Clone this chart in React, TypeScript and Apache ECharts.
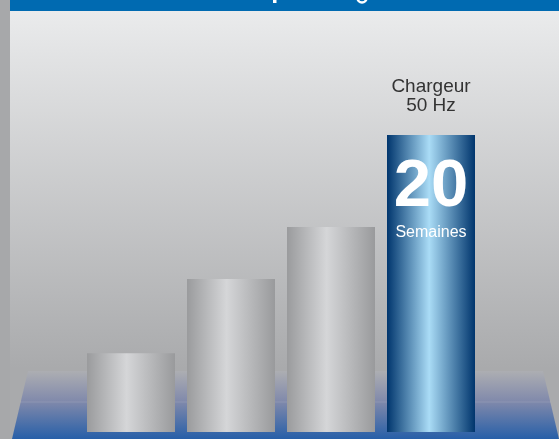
import React, { useEffect, useRef } from 'react';
import * as echarts from 'echarts';

const categories = ['Chargeur A', 'Chargeur B', 'Chargeur C', 'Chargeur 50 Hz'];
const weeks = [5.3, 10.3, 13.8, 20];
const highlightTitle = ['Chargeur', '50 Hz'];
const unitLabel = 'Semaines';

const grayBar = {
  type: 'linear', x: 0, y: 0, x2: 1, y2: 0,
  colorStops: [
    { offset: 0, color: '#9a9b9d' },
    { offset: 0.45, color: '#d5d6d8' },
    { offset: 1, color: '#999a9c' },
  ],
};
const blueBar = {
  type: 'linear', x: 0, y: 0, x2: 1, y2: 0,
  colorStops: [
    { offset: 0, color: '#00356d' },
    { offset: 0.48, color: '#aadcf6' },
    { offset: 1, color: '#00356d' },
  ],
};

export default function App() {
  const ref = useRef<HTMLDivElement>(null);
  useEffect(() => {
    if (!ref.current) return;
    const chart = echarts.init(ref.current, null, { renderer: 'svg' });
    const font = '"Liberation Sans", Arial, Helvetica, sans-serif';
    const last = weeks.length - 1;
    chart.setOption({
      animation: false,
      graphic: [
        {
          type: 'rect', z: 0, silent: true,
          shape: { x: 0, y: 0, width: 559, height: 439 },
          style: {
            fill: {
              type: 'linear', x: 0, y: 0, x2: 0, y2: 1, global: false,
              colorStops: [
                { offset: 0, color: '#ecedee' },
                { offset: 0.84, color: '#a9aaac' },
                { offset: 1, color: '#a9aaac' },
              ],
            },
          },
        },
        {
          type: 'rect', z: 1, silent: true,
          shape: { x: 0, y: 0, width: 10, height: 439 },
          style: { fill: '#a7a8aa' },
        },
        {
          type: 'rect', z: 1, silent: true,
          shape: { x: 10, y: 0, width: 549, height: 11 },
          style: { fill: '#006ab1' },
        },
        {
          type: 'rect', z: 2, silent: true,
          shape: { x: 273, y: 0, width: 3.5, height: 3 },
          style: { fill: '#ffffff' },
        },
        {
          type: 'arc', z: 2, silent: true,
          shape: { cx: 362, cy: -2, r: 4.5, startAngle: 0, endAngle: Math.PI },
          style: { stroke: '#ffffff', lineWidth: 2.5, fill: 'none' },
        },
        {
          type: 'polygon', z: 1, silent: true,
          shape: { points: [[28, 371], [543, 371], [559, 439], [12, 439]] },
          style: {
            fill: {
              type: 'linear', x: 0, y: 0, x2: 0, y2: 1,
              colorStops: [
                { offset: 0, color: '#adaeb2' },
                { offset: 0.45, color: '#8089ab' },
                { offset: 1, color: '#275fa8' },
              ],
            },
          },
        },
        {
          type: 'line', z: 1, silent: true,
          shape: { x1: 20, y1: 402, x2: 551, y2: 402 },
          style: { stroke: 'rgba(255,255,255,0.12)', lineWidth: 1 },
        },
      ],
      grid: { left: 81, right: 78, top: 135, bottom: 7 },
      xAxis: { type: 'category', data: categories, show: false },
      yAxis: { type: 'value', min: 0, max: 20, show: false },
      series: [
        {
          type: 'bar',
          z: 10,
          barWidth: 88,
          silent: true,
          data: weeks.map((v, i) =>
            i === last
              ? {
                  value: v,
                  itemStyle: { color: blueBar },
                  label: {
                    show: true,
                    position: ['50%', -59],
                    align: 'center',
                    verticalAlign: 'top',
                    fontFamily: font,
                    formatter: () =>
                      `{c|${highlightTitle[0]}}\n{c|${highlightTitle[1]}}\n{s| }\n{n|${v}}\n{m|${unitLabel}}`,
                    rich: {
                      c: { fontSize: 19, lineHeight: 19, color: '#333333', fontFamily: font, align: 'center' },
                      s: { fontSize: 10, lineHeight: 32, fontFamily: font },
                      n: { fontSize: 67, lineHeight: 73, fontWeight: 'bold', color: '#ffffff', fontFamily: font, align: 'center' },
                      m: { fontSize: 16, lineHeight: 24, color: '#ffffff', fontFamily: font, align: 'center' },
                    },
                  },
                }
              : { value: v, itemStyle: { color: grayBar } }
          ),
        },
      ],
    });
    return () => chart.dispose();
  }, []);
  return (
    <div
      ref={ref}
      style={{ position: 'fixed', left: 0, top: 0, width: 559, height: 439 }}
    />
  );
}
